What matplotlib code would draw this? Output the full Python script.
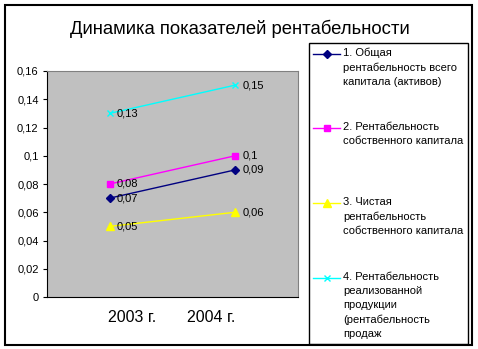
import matplotlib
matplotlib.use("Agg")
import matplotlib.pyplot as plt
from matplotlib.patches import Rectangle
from matplotlib.lines import Line2D

plt.rcParams["font.family"] = ["Liberation Sans", "DejaVu Sans"]

years = ["2003 г.", "2004 г."]
series_names = [
    "1. Общая\nрентабельность всего\nкапитала (активов)",
    "2. Рентабельность\nсобственного капитала",
    "3. Чистая\nрентабельность\nсобственного капитала",
    "4. Рентабельность\nреализованной\nпродукции\n(рентабельность\nпродаж",
]
total_assets = [0.07, 0.09]
equity = [0.08, 0.10]
net_equity = [0.05, 0.06]
sales = [0.13, 0.15]
value_labels = [["0,07", "0,09"], ["0,08", "0,1"], ["0,05", "0,06"], ["0,13", "0,15"]]
yticks = [0, 0.02, 0.04, 0.06, 0.08, 0.10, 0.12, 0.14, 0.16]
ytick_labels = ["0", "0,02", "0,04", "0,06", "0,08", "0,1", "0,12", "0,14", "0,16"]

colors = ["#000080", "#FF00FF", "#FFFF00", "#00FFFF"]
markers = ["D", "s", "^", "x"]
msizes = [4, 5, 6, 5]

W, H = 478, 349
fig = plt.figure(figsize=(W / 100, H / 100), dpi=100)
fig.patch.set_facecolor("white")


def px(x, y):
    return x / W, 1 - y / H


# outer frame
fig.patches.append(Rectangle(px(5, 345), 467 / W, 340 / H, transform=fig.transFigure,
                             fill=False, edgecolor="black", lw=1.5))

fig.text(240 / W, 1 - 29 / H, "Динамика показателей рентабельности",
         ha="center", va="center", fontsize=13.3)

ax = fig.add_axes([47 / W, 1 - 297 / H, 251 / W, 226 / H])
ax.set_facecolor("#C0C0C0")
x = [0, 1]
data = [total_assets, equity, net_equity, sales]
for vals, c, m, ms, labs in zip(data, colors, markers, msizes, value_labels):
    ax.plot(x, vals, color=c, marker=m, markersize=ms, lw=1,
            markeredgecolor=c, markeredgewidth=1.0, clip_on=False)
    for xi, v, t in zip(x, vals, labs):
        ax.annotate(t, (xi, v), xytext=(5, 0), textcoords="offset points",
                    va="center", ha="left", fontsize=8)

ax.set_xlim(-0.5, 1.5)
ax.set_ylim(0, 0.16)
ax.set_yticks(yticks)
ax.set_yticklabels(ytick_labels, fontsize=8)
ax.tick_params(axis="y", length=3, width=0.8, pad=3)
ax.set_xticks([])
for s in ("top", "right"):
    ax.spines[s].set_color("#808080")
for s in ("left", "bottom"):
    ax.spines[s].set_color("black")
for s in ax.spines.values():
    s.set_linewidth(0.8)

fig.text(132 / W, 1 - 318 / H, years[0], ha="center", va="center", fontsize=11.5)
fig.text(211 / W, 1 - 318 / H, years[1], ha="center", va="center", fontsize=11.5)

# legend box
fig.patches.append(Rectangle(px(309, 344), 159 / W, 301 / H, transform=fig.transFigure,
                             fill=False, edgecolor="black", lw=1.0))
entry_y = [54, 128, 203, 278]
for ey, name, c, m, ms in zip(entry_y, series_names, colors, markers, msizes):
    fig.lines.append(Line2D([313 / W, 340 / W], [1 - ey / H] * 2, transform=fig.transFigure,
                            color=c, lw=1))
    fig.lines.append(Line2D([327 / W], [1 - ey / H], transform=fig.transFigure,
                            color=c, marker=m, markersize=ms, markeredgecolor=c))
    fig.text(343 / W, 1 - (ey - 6) / H, name, ha="left", va="top", fontsize=8,
             linespacing=1.5)

fig.savefig("out.png", dpi=100, facecolor="white")
